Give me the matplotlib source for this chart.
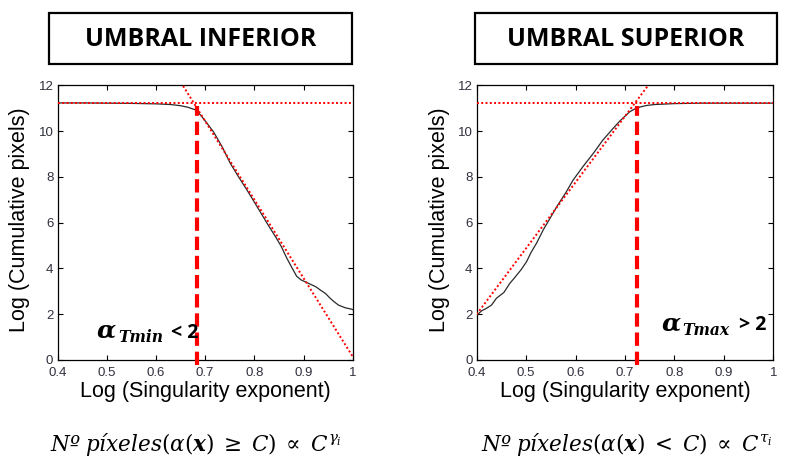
import matplotlib
matplotlib.use("Agg")
import matplotlib.pyplot as plt
from matplotlib.patches import Rectangle
import numpy as np

plt.rcParams['mathtext.fontset'] = 'stix'

# ---- data -------------------------------------------------------------
x_ticks = [0.4, 0.5, 0.6, 0.7, 0.8, 0.9, 1.0]
x_tick_labels = ['0.4', '0.5', '0.6', '0.7', '0.8', '0.9', '1']
y_ticks = [0, 2, 4, 6, 8, 10, 12]

# lower threshold: cumulative count of pixels with exponent >= C
inf_x = [0.40, 0.45, 0.50, 0.55, 0.60, 0.63, 0.65, 0.665, 0.68, 0.69, 0.70,
         0.717, 0.735, 0.751, 0.768, 0.785, 0.80, 0.818, 0.83, 0.845, 0.855,
         0.866, 0.876, 0.886, 0.895, 0.903, 0.915, 0.925, 0.934, 0.945,
         0.954, 0.962, 0.971, 0.985, 0.998, 1.0]
inf_y = [11.23, 11.23, 11.22, 11.21, 11.19, 11.16, 11.11, 11.04, 10.93, 10.72,
         10.45, 9.97, 9.30, 8.60, 8.00, 7.43, 6.90, 6.26, 5.83, 5.32, 4.95,
         4.45, 4.05, 3.66, 3.50, 3.42, 3.30, 3.20, 3.06, 2.90, 2.70, 2.55,
         2.40, 2.28, 2.22, 2.20]
inf_plateau = 11.24
inf_fit_pts = ([0.6545, 1.0], [12.0, 0.15])
inf_threshold = 0.683
inf_threshold_top = 11.1

# upper threshold: cumulative count of pixels with exponent < C
sup_x = [0.40, 0.41, 0.42, 0.43, 0.44, 0.455, 0.467, 0.475, 0.481, 0.49,
         0.501, 0.51, 0.521, 0.535, 0.55, 0.562, 0.58, 0.595, 0.615, 0.636,
         0.655, 0.676, 0.69, 0.70, 0.71, 0.72, 0.73, 0.744, 0.76, 0.78, 0.80,
         0.825, 0.85, 0.90, 0.95, 1.0]
sup_y = [1.95, 2.15, 2.26, 2.40, 2.70, 2.95, 3.35, 3.55, 3.71, 3.95, 4.30,
         4.70, 5.10, 5.70, 6.25, 6.70, 7.30, 7.86, 8.45, 9.03, 9.60, 10.12,
         10.45, 10.65, 10.85, 10.97, 11.05, 11.12, 11.16, 11.18, 11.20, 11.21,
         11.22, 11.22, 11.22, 11.22]
sup_plateau = 11.22
sup_fit_pts = ([0.4, 0.747], [2.0, 12.0])
sup_threshold = 0.724
sup_threshold_top = 11.1

W, H = 789, 463
fig = plt.figure(figsize=(W / 100, H / 100), dpi=100)


def fx(px):
    return px / W


def fy(py):
    return 1 - py / H


tick_color = '#30303f'
sym_font = dict(family='DejaVu Serif', style='italic', weight='bold')


def panel(left_px, right_px, cx, cy, plateau, fit_pts, thr, thr_top,
          title, sub, cmp_txt, note_geo, formula, formula_x, ylabel_x):
    ax = fig.add_axes([fx(left_px), fy(360), fx(right_px - left_px),
                       (360 - 85.3) / H])
    ax.set_xlim(0.4, 1.0)
    ax.set_ylim(0, 12)
    # cumulative curve
    ax.plot(cx, cy, color='#2a2a2a', lw=0.9, zorder=3)
    # plateau and power-law fit
    ax.axhline(plateau, color='red', lw=1.4, ls=(0, (1, 1.2)), zorder=4)
    xs = np.array([0.4, 1.0])
    (x0, x1), (y0, y1) = fit_pts
    slope = (y1 - y0) / (x1 - x0)
    ax.plot(xs, y0 + slope * (xs - x0), color='red', lw=1.4,
            ls=(0, (1, 1.2)), zorder=4)
    # threshold marker
    ax.plot([thr, thr], [-0.2, thr_top], color='red', lw=3.0,
            ls=(0, (3.2, 1.4)), zorder=5, clip_on=False,
            solid_capstyle='butt', dash_capstyle='butt')

    ax.set_xticks(x_ticks)
    ax.set_xticklabels(x_tick_labels)
    ax.set_yticks(y_ticks)
    ax.tick_params(direction='in', top=True, right=True, length=3.5,
                   width=0.8, labelsize=9.5, labelcolor=tick_color)
    ax.tick_params(axis='x', pad=5)
    ax.tick_params(axis='y', pad=3)
    for lab in ax.get_xticklabels() + ax.get_yticklabels():
        lab.set_family('Liberation Sans')
    for s in ax.spines.values():
        s.set_linewidth(0.9)

    ax.set_xlabel('Log (Singularity exponent)', fontsize=15.5,
                  family='Liberation Sans')
    ax.xaxis.set_label_coords(0.5, (360 - 392) / (360 - 85.3))
    ax.xaxis.label.set_va('center')
    ax.set_ylabel('Log (Cumulative pixels)', fontsize=15.5,
                  family='Liberation Sans')
    ax.yaxis.set_label_coords((ylabel_x - left_px) / (right_px - left_px),
                              (360 - 220) / (360 - 85.3))
    ax.yaxis.label.set_va('center')

    # threshold annotation: alpha with subscript, then comparison
    (ax0, base), (sx0, sbase), (tx1, tbase) = note_geo
    fig.text(fx(ax0), fy(base), 'α', ha='left', va='baseline',
             fontsize=18, **sym_font)
    fig.text(fx(sx0), fy(sbase), sub, ha='left', va='baseline',
             fontsize=11.2, **sym_font)
    fig.text(fx(tx1), fy(tbase), cmp_txt, ha='right', va='baseline',
             fontsize=14, fontweight='bold', family='Open Sans')

    # title box
    bx0, bx1 = title[1], title[2]
    fig.patches.append(Rectangle((fx(bx0), fy(64)), fx(bx1 - bx0),
                                 (64 - 12.7) / H, transform=fig.transFigure,
                                 fill=False, lw=1.6, edgecolor='black'))
    fig.text(fx((bx0 + bx1) / 2), fy(39), title[0], ha='center',
             va='center', fontsize=18, fontweight='bold',
             family='Open Sans')

    fig.text(fx(formula_x), fy(445), formula, ha='center', va='center',
             fontsize=15.5, math_fontfamily='dejavuserif')
    return ax


panel(57.5, 352.7, inf_x, inf_y, inf_plateau, inf_fit_pts, inf_threshold,
      inf_threshold_top, ('UMBRAL INFERIOR', 49, 352), 'Tmin', '< 2',
      ((97, 337), (118, 342), (198, 338)),
      r'$Nº\;píxeles(\alpha(\boldsymbol{x})\;\geq\;C)\;\propto\;C^{\gamma_i}$',
      196, 20)
panel(476.7, 773.3, sup_x, sup_y, sup_plateau, sup_fit_pts, sup_threshold,
      sup_threshold_top, ('UMBRAL SUPERIOR', 475, 776.7), 'Tmax', '> 2',
      ((662, 330), (682, 335), (766, 330)),
      r'$Nº\;píxeles(\alpha(\boldsymbol{x})\;<\;C)\;\propto\;C^{\tau_i}$',
      627, 440)

fig.savefig('out.png', dpi=100)
